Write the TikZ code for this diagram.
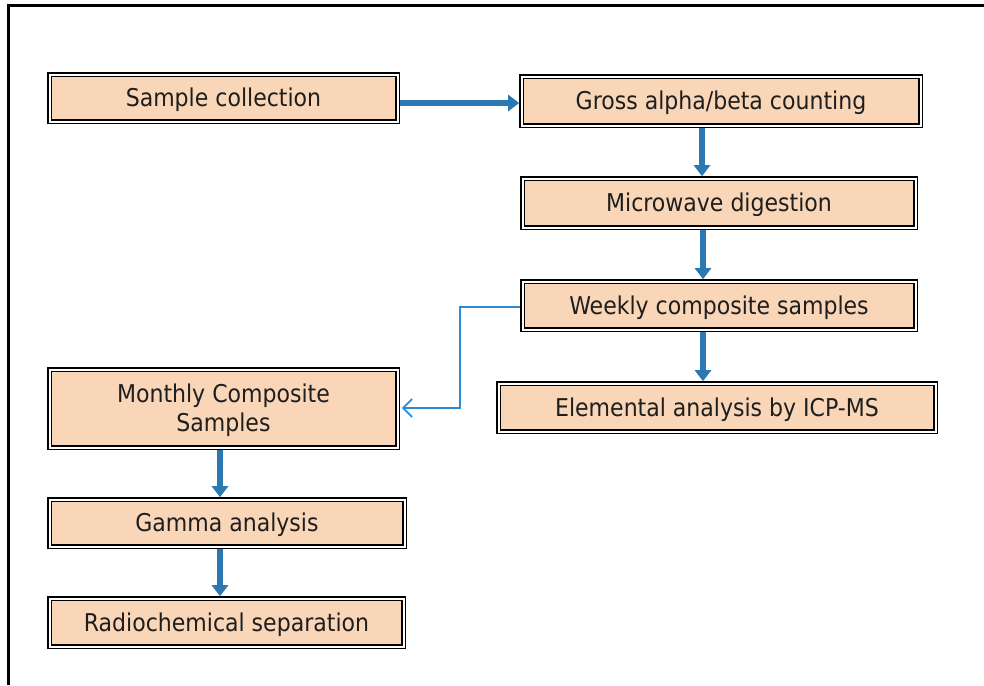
\documentclass[tikz,border=0pt]{standalone}
\usepackage{fontspec}
\setmainfont{DejaVu Sans Condensed}
\usetikzlibrary{arrows.meta}
\definecolor{boxfill}{RGB}{250,214,184}
\definecolor{arrblue}{RGB}{43,120,178}
\definecolor{thinblue}{RGB}{45,139,214}
\definecolor{txt}{RGB}{30,30,30}
\tikzset{
  stepbox/.style={draw=black, double=white, double distance=2pt, line width=1.3pt,
    fill=boxfill, inner sep=0pt, outer sep=2.3pt, text=txt, text depth=1pt,
    font=\fontsize{24.5}{29}\selectfont, align=center},
  bigarrow/.style={draw=arrblue, line width=5.5pt, -{Triangle[width=16pt,length=11pt]}},
  thinarrow/.style={draw=thinblue, line width=1.8pt, -{Straight Barb[length=9pt,width=18pt]}}
}
\begin{document}
\begin{tikzpicture}[x=1pt,y=-1pt]
\useasboundingbox (0,0) rectangle (984,685);
\draw[line width=3pt] (8,685) -- (8,6) -- (984,6);
\node[stepbox, minimum width=348pt, minimum height=47pt] (sc) at (223.5,98) {Sample collection};
\node[stepbox, minimum width=399pt, minimum height=49pt] (ga) at (721,101) {Gross alpha/beta counting};
\node[stepbox, minimum width=393pt, minimum height=49pt] (mw) at (719,203) {Microwave digestion};
\node[stepbox, minimum width=393pt, minimum height=48pt] (wk) at (719,305.5) {Weekly composite samples};
\node[stepbox, minimum width=437pt, minimum height=48pt] (el) at (717,407.5) {Elemental analysis by ICP-MS};
\node[stepbox, minimum width=348pt, minimum height=78pt] (mo) at (223.5,408.5) {Monthly Composite\\Samples};
\node[stepbox, minimum width=355pt, minimum height=47pt] (gm) at (227,523) {Gamma analysis};
\node[stepbox, minimum width=354pt, minimum height=48pt] (rd) at (226.5,622.5) {Radiochemical separation};
\coordinate (bend1) at (460,307);
\coordinate (bend2) at (460,408);
\draw[bigarrow] ([yshift=-5pt]sc.east) -- ([yshift=-2pt]ga.west);
\draw[bigarrow] ([xshift=-19pt]ga.south) -- ([xshift=-17pt]mw.north);
\draw[bigarrow] ([xshift=-16pt]mw.south) -- ([xshift=-16pt]wk.north);
\draw[bigarrow] ([xshift=-16pt]wk.south) -- ([xshift=-14pt]el.north);
\draw[bigarrow] ([xshift=-3.5pt]mo.south) -- ([xshift=-7pt]gm.north);
\draw[bigarrow] ([xshift=-7pt]gm.south) -- ([xshift=-6.5pt]rd.north);
\draw[thinarrow] (wk.west |- bend1) -- (bend1) -- (bend2) -- ([xshift=2pt]mo.east |- bend2);
\end{tikzpicture}
\end{document}
